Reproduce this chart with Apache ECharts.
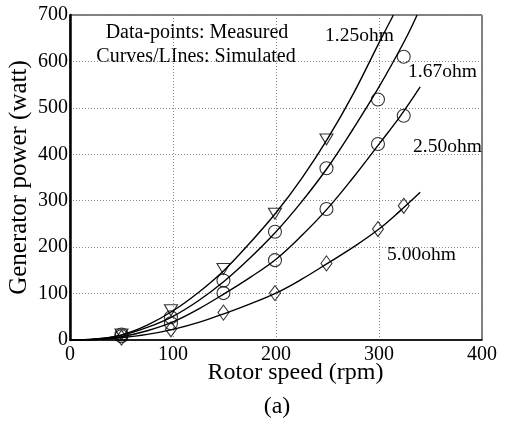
<!DOCTYPE html>
<html>
<head>
<meta charset="utf-8">
<script src="https://cdn.jsdelivr.net/npm/echarts@6/dist/echarts.min.js"></script>
<style>
  html, body { margin: 0; padding: 0; background: #fff; }
  #chart { width: 506px; height: 424px; }
</style>
</head>
<body>
<div id="chart"></div>
<script>
// Measured rotor speeds (rpm)
const measuredSpeed = [50, 98, 149, 199, 249, 299, 324];

// Measured generator power (W) per load resistance
const measured125 = [12, 64, 153, 272, 432];
const measured167 = [12, 49, 128, 233, 370, 518, 610];
const measured250 = [8, 36, 101, 172, 282, 422, 483];
const measured500 = [5, 23, 59, 101, 165, 239, 289];

// Simulated curves: speed (rpm) and power (W)
const simSpeed125 = [0, 25, 50, 75, 100, 125, 150, 175, 200, 225, 250, 275, 300, 314];
const simPower125 = [0, 2, 11, 32, 63, 103, 151, 210, 274, 348, 433, 530, 640, 700];
const simSpeed167 = [0, 25, 50, 75, 100, 125, 150, 175, 200, 225, 250, 275, 300, 325, 337];
const simPower167 = [0, 2, 10, 27, 51, 85, 127, 177, 233, 298, 371, 455, 545, 645, 700];
const simSpeed250 = [0, 25, 50, 75, 100, 125, 150, 175, 200, 225, 250, 275, 300, 320, 340];
const simPower250 = [0, 1, 7, 20, 39, 67, 100, 135, 174, 225, 283, 350, 422, 480, 545];
const simSpeed500 = [0, 25, 50, 75, 100, 125, 150, 175, 200, 225, 250, 275, 300, 320, 340];
const simPower500 = [0, 1, 5, 12, 23, 38, 57, 78, 101, 131, 165, 200, 239, 277, 318];

// Axis ticks
const xTicks = [0, 100, 200, 300, 400];
const yTicks = [0, 100, 200, 300, 400, 500, 600, 700];

const FONT = '"Liberation Serif", "Times New Roman", serif';
const pairs = (xs, ys) => ys.map((y, i) => [xs[i], y]);

const triangleDown = 'path://M0,0 L12,0 L6,10 Z';
const diamond = 'path://M5,0 L10,7 L5,14 L0,7 Z';

function curve(xs, ys) {
  return {
    type: 'line', data: pairs(xs, ys), smooth: 0.4, showSymbol: false,
    clip: true, lineStyle: { color: '#000', width: 1.4 }, z: 3, silent: true
  };
}
function points(values, symbol, size) {
  return {
    type: 'scatter', data: pairs(measuredSpeed, values), symbol: symbol,
    symbolSize: size, clip: false,
    itemStyle: { color: 'rgba(0,0,0,0)', borderColor: '#000', borderWidth: 1.1 },
    z: 4, silent: true
  };
}
function label(text, x, y, size, align) {
  return {
    type: 'text', x: x, y: y,
    style: { text: text, font: size + 'px ' + FONT, fill: '#000', align: align, verticalAlign: 'middle' }
  };
}

const chart = echarts.init(document.getElementById('chart'), null, { renderer: 'canvas' });
chart.setOption({
  animation: false,
  backgroundColor: '#fff',
  textStyle: { fontFamily: FONT },
  grid: {
    left: 70, right: 24, top: 15, bottom: 84,
    containLabel: false, outerBoundsMode: 'none',
    show: true, borderColor: '#000', borderWidth: 1, backgroundColor: 'transparent'
  },
  xAxis: {
    type: 'value', min: xTicks[0], max: xTicks[xTicks.length - 1], interval: 100,
    name: 'Rotor speed (rpm)', nameLocation: 'middle', nameGap: 21, nameMoveOverlap: false,
    nameTextStyle: { fontFamily: FONT, fontSize: 24, color: '#000', padding: [0, 0, 0, 39], verticalAlign: 'top' },
    axisLine: { lineStyle: { color: '#000', width: 1.5 } },
    axisTick: { show: false },
    axisLabel: { fontFamily: FONT, fontSize: 20, color: '#000', margin: 5 },
    splitLine: { show: true, lineStyle: { color: '#888', type: [1, 2], width: 1 } }
  },
  yAxis: {
    type: 'value', min: yTicks[0], max: yTicks[yTicks.length - 1], interval: 100,
    name: 'Generator power (watt)', nameLocation: 'middle', nameGap: 38, nameMoveOverlap: false,
    nameTextStyle: { fontFamily: FONT, fontSize: 25, color: '#000' },
    axisLine: { show: true, lineStyle: { color: '#000', width: 2.5 } },
    axisTick: { show: false },
    axisLabel: { fontFamily: FONT, fontSize: 20, color: '#000', margin: 2 },
    splitLine: { show: true, lineStyle: { color: '#888', type: [1, 2], width: 1 } }
  },
  series: [
    curve(simSpeed125, simPower125),
    curve(simSpeed167, simPower167),
    curve(simSpeed250, simPower250),
    curve(simSpeed500, simPower500),
    points(measured125, triangleDown, [13, 11]),
    points(measured167, 'circle', 13),
    points(measured250, 'circle', 13),
    points(measured500, diamond, [11, 15])
  ],
  graphic: [
    label('Data-points: Measured', 197, 33, 20, 'center'),
    label('Curves/LInes: Simulated', 196, 57, 20, 'center'),
    label('1.25ohm', 325, 36, 19.5, 'left'),
    label('1.67ohm', 408, 72, 19.5, 'left'),
    label('2.50ohm', 413, 147, 19.5, 'left'),
    label('5.00ohm', 387, 255, 19.5, 'left'),
    label('(a)', 277, 407, 24, 'center')
  ]
});
</script>
</body>
</html>
